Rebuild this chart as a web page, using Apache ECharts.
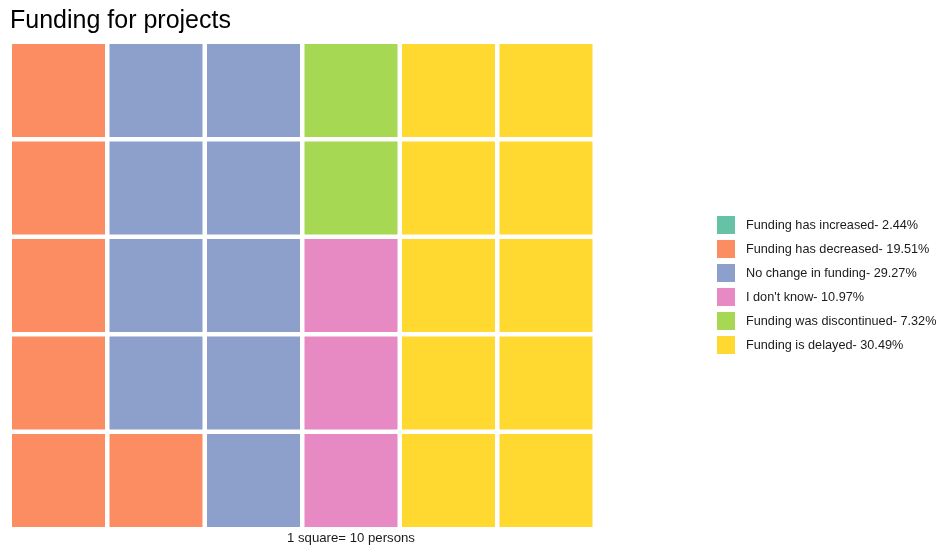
<!DOCTYPE html>
<html>
<head>
<meta charset="utf-8">
<style>
  html, body { margin: 0; padding: 0; background: #ffffff; }
  #chart { width: 941px; height: 551px; }
</style>
<script src="https://cdn.jsdelivr.net/npm/echarts@6/dist/echarts.min.js"></script>
</head>
<body>
<div id="chart"></div>
<script>
// Survey answers, their shares and the number of squares each one gets
const categories = [
  'Funding has increased',
  'Funding has decreased',
  'No change in funding',
  "I don't know",
  'Funding was discontinued',
  'Funding is delayed'
];
const percents = ['2.44%', '19.51%', '29.27%', '10.97%', '7.32%', '30.49%'];
const squares = [0, 6, 9, 3, 2, 10];
const colors = ['#66C2A5', '#FC8D62', '#8DA0CB', '#E78AC3', '#A6D854', '#FFD92F'];

const nCols = 6;
const nRows = 5;

// Fill the grid column by column, from the bottom row upward
const cells = categories.map(() => []);
let k = 0;
squares.forEach((n, ci) => {
  for (let i = 0; i < n; i++, k++) {
    const col = Math.floor(k / nRows);
    const row = k % nRows;
    cells[ci].push([col, row]);
  }
});

const names = categories.map((c, i) => c + '- ' + percents[i]);
const gap = 4.5;
const fontFamily = 'Liberation Sans, Arial, sans-serif';

const series = names.map((name, i) => ({
  type: 'custom',
  name: name,
  data: cells[i],
  itemStyle: { color: colors[i] },
  renderItem: function (params, api) {
    const c = api.coord([api.value(0) + 0.5, api.value(1) + 0.5]);
    const s = api.size([1, 1]);
    const w = s[0] - gap, h = s[1] - gap;
    return {
      type: 'rect',
      shape: { x: c[0] - w / 2, y: c[1] - h / 2, width: w, height: h },
      style: { fill: colors[i] }
    };
  }
}));

const chart = echarts.init(document.getElementById('chart'));
chart.setOption({
  animation: false,
  backgroundColor: '#ffffff',
  color: colors,
  title: {
    text: 'Funding for projects',
    left: 5,
    top: 4,
    textStyle: { fontFamily: fontFamily, fontSize: 25, fontWeight: 'normal', color: '#000000' }
  },
  legend: {
    orient: 'vertical',
    left: 717,
    top: 216,
    padding: 0,
    icon: 'rect',
    itemWidth: 18,
    itemHeight: 18,
    itemGap: 6,
    data: names,
    textStyle: { fontFamily: fontFamily, fontSize: 12.7, color: '#1a1a1a', padding: [0, 0, 0, 6] }
  },
  grid: { left: 9.75, top: 41.7, width: 585, height: 487.5 },
  xAxis: { type: 'value', min: 0, max: nCols, show: false },
  yAxis: { type: 'value', min: 0, max: nRows, show: false },
  graphic: [{
    type: 'text',
    left: 287,
    top: 532,
    style: { text: '1 square= 10 persons', font: '13.2px Liberation Sans, Arial, sans-serif', fill: '#1a1a1a' }
  }],
  series: series
});
</script>
</body>
</html>
